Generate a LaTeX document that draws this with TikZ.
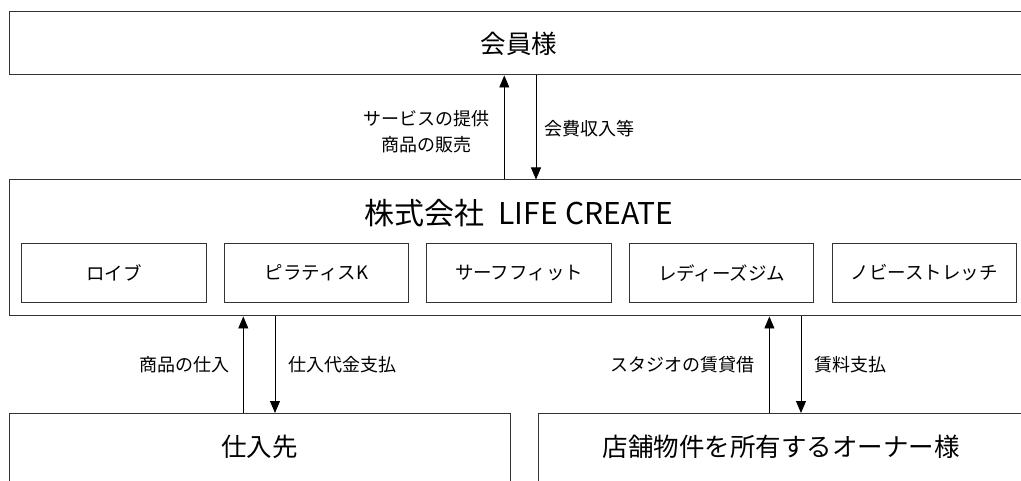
\documentclass[tikz,border=0pt]{standalone}
\usepackage{fontspec}
\setmainfont{Noto Sans CJK JP}
\usetikzlibrary{arrows.meta}
\usetikzlibrary{positioning}

\begin{document}
\begin{tikzpicture}[
        x=1pt, y=-1pt,
        box/.style={draw=black!80, line width=1pt, inner sep=0pt},
        unit/.style={box, minimum width=184.5pt, minimum height=59.5pt, font=\fontsize{18.5}{22}\selectfont},
        big/.style={font=\fontsize{25.5}{30}\selectfont},
        lbl/.style={inner sep=0pt, align=center, font=\fontsize{18}{26}\selectfont},
        arrow/.style={-{Triangle[length=12pt, width=10pt]}, line width=0.9pt}
    ]
        \clip (0,0) rectangle (1021,481);
        \fill[white] (0,0) rectangle (1021,481);

        % members and the company
        \node[box, big, minimum width=1020pt, minimum height=63pt] (member) at (519,43.5) {会員様};
        \node[box, minimum width=1020pt, minimum height=136pt] (company) at (519,248) {};
        \node[font=\fontsize{30}{36}\selectfont] (title) at (519,213) {株式会社\hspace{14pt}LIFE\hspace{8pt}CREATE};

        % studio brands inside the company
        \node[unit] (loive) at (113.9,273) {ロイブ};
        \node[unit, right=17.1pt of loive] (pilates) {ピラティスK};
        \node[unit, right=17.1pt of pilates] (surf) {サーフフィット};
        \node[unit, right=17.1pt of surf] (ladies) {レディーズジム};
        \node[unit, right=17.1pt of ladies] (stretch) {ノビーストレッチ};

        % suppliers and owners
        \node[box, minimum width=501pt, minimum height=120pt, anchor=north west] (supplier) at (9,413) {};
        \node[big] (suppliertext) at (259.5,447) {仕入先};
        \node[box, minimum width=500pt, minimum height=120pt, anchor=north west] (owner) at (538.3,413) {};
        \node[big] (ownertext) at (781,447) {店舗物件を所有するオーナー様};

        % arrow columns
        \coordinate (c1) at (504.3,0);
        \coordinate (c2) at (536,0);
        \coordinate (c3) at (243.3,0);
        \coordinate (c4) at (275,0);
        \coordinate (c5) at (769.4,0);
        \coordinate (c6) at (801,0);

        \draw[arrow] (company.north -| c1) -- node[lbl, pos=0.46, left=14pt] {サービスの提供\\商品の販売} (member.south -| c1);
        \draw[arrow] (member.south -| c2) -- node[lbl, pos=0.51, right=8pt] {会費収入等} (company.north -| c2);
        \draw[arrow] (supplier.north -| c3) -- node[lbl, left=13pt] {商品の仕入} (company.south -| c3);
        \draw[arrow] (company.south -| c4) -- node[lbl, right=13pt] {仕入代金支払} (supplier.north -| c4);
        \draw[arrow] (owner.north -| c5) -- node[lbl, left=14pt] {スタジオの賃貸借} (company.south -| c5);
        \draw[arrow] (company.south -| c6) -- node[lbl, right=13pt] {賃料支払} (owner.north -| c6);
    \end{tikzpicture}
\end{document}
